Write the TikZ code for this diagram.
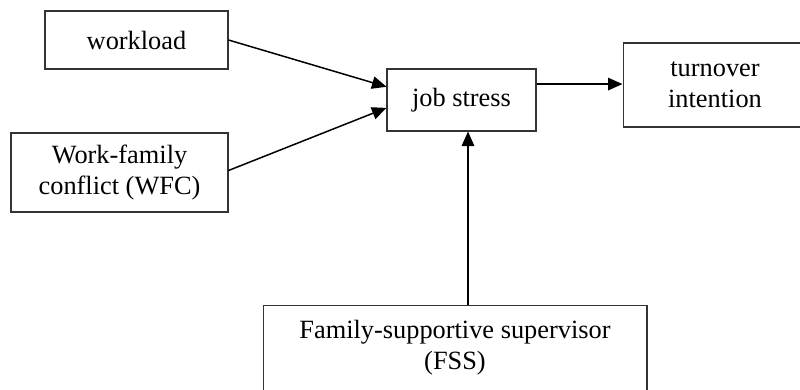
\documentclass[tikz,border=0pt]{standalone}
\usepackage{fontspec}
\setmainfont{Liberation Serif}
\usetikzlibrary{arrows.meta,calc}

\tikzset{
  box/.style={rectangle, draw=black!80, line width=0.6pt, align=center,
    inner sep=2pt, font=\fontsize{15}{17.6}\selectfont},
  arrow/.style={-{Triangle[length=0.29cm,width=0.25cm]}, line width=0.85pt}
}

\begin{document}
\begin{tikzpicture}[x=0.02cm, y=-0.02cm]
				\useasboundingbox (0,0) rectangle (800,389);
				\clip (0,0) rectangle (800,389);
				
				\node[box, minimum width=3.66cm, minimum height=1.16cm] (work) at (136.5,40) {workload};
				\node[box, minimum width=4.34cm, minimum height=1.58cm] (wfc) at (119.5,172.5) {Work-family\\conflict (WFC)};
				\node[box, minimum width=2.98cm, minimum height=1.24cm] (stress) at (461.5,100) {job stress};
				\node[box, minimum width=3.68cm, minimum height=1.68cm] (turn) at (715,85) {turnover\\intention};
				\node[box, minimum width=7.68cm, minimum height=1.7cm] (fss) at (455,348) {Family-supportive supervisor\\(FSS)};
				
				\coordinate (foot) at ([xshift=0.13cm]stress.south);
				
				\draw[arrow] (work.east) -- (stress.170);
				\draw[arrow] ([yshift=0.04cm]wfc.east) -- (stress.186);
				\draw[arrow] (stress.12) -- (stress.12 -| turn.west);
				\draw[arrow] (foot |- fss.north) -- (foot);
			\end{tikzpicture}
\end{document}
